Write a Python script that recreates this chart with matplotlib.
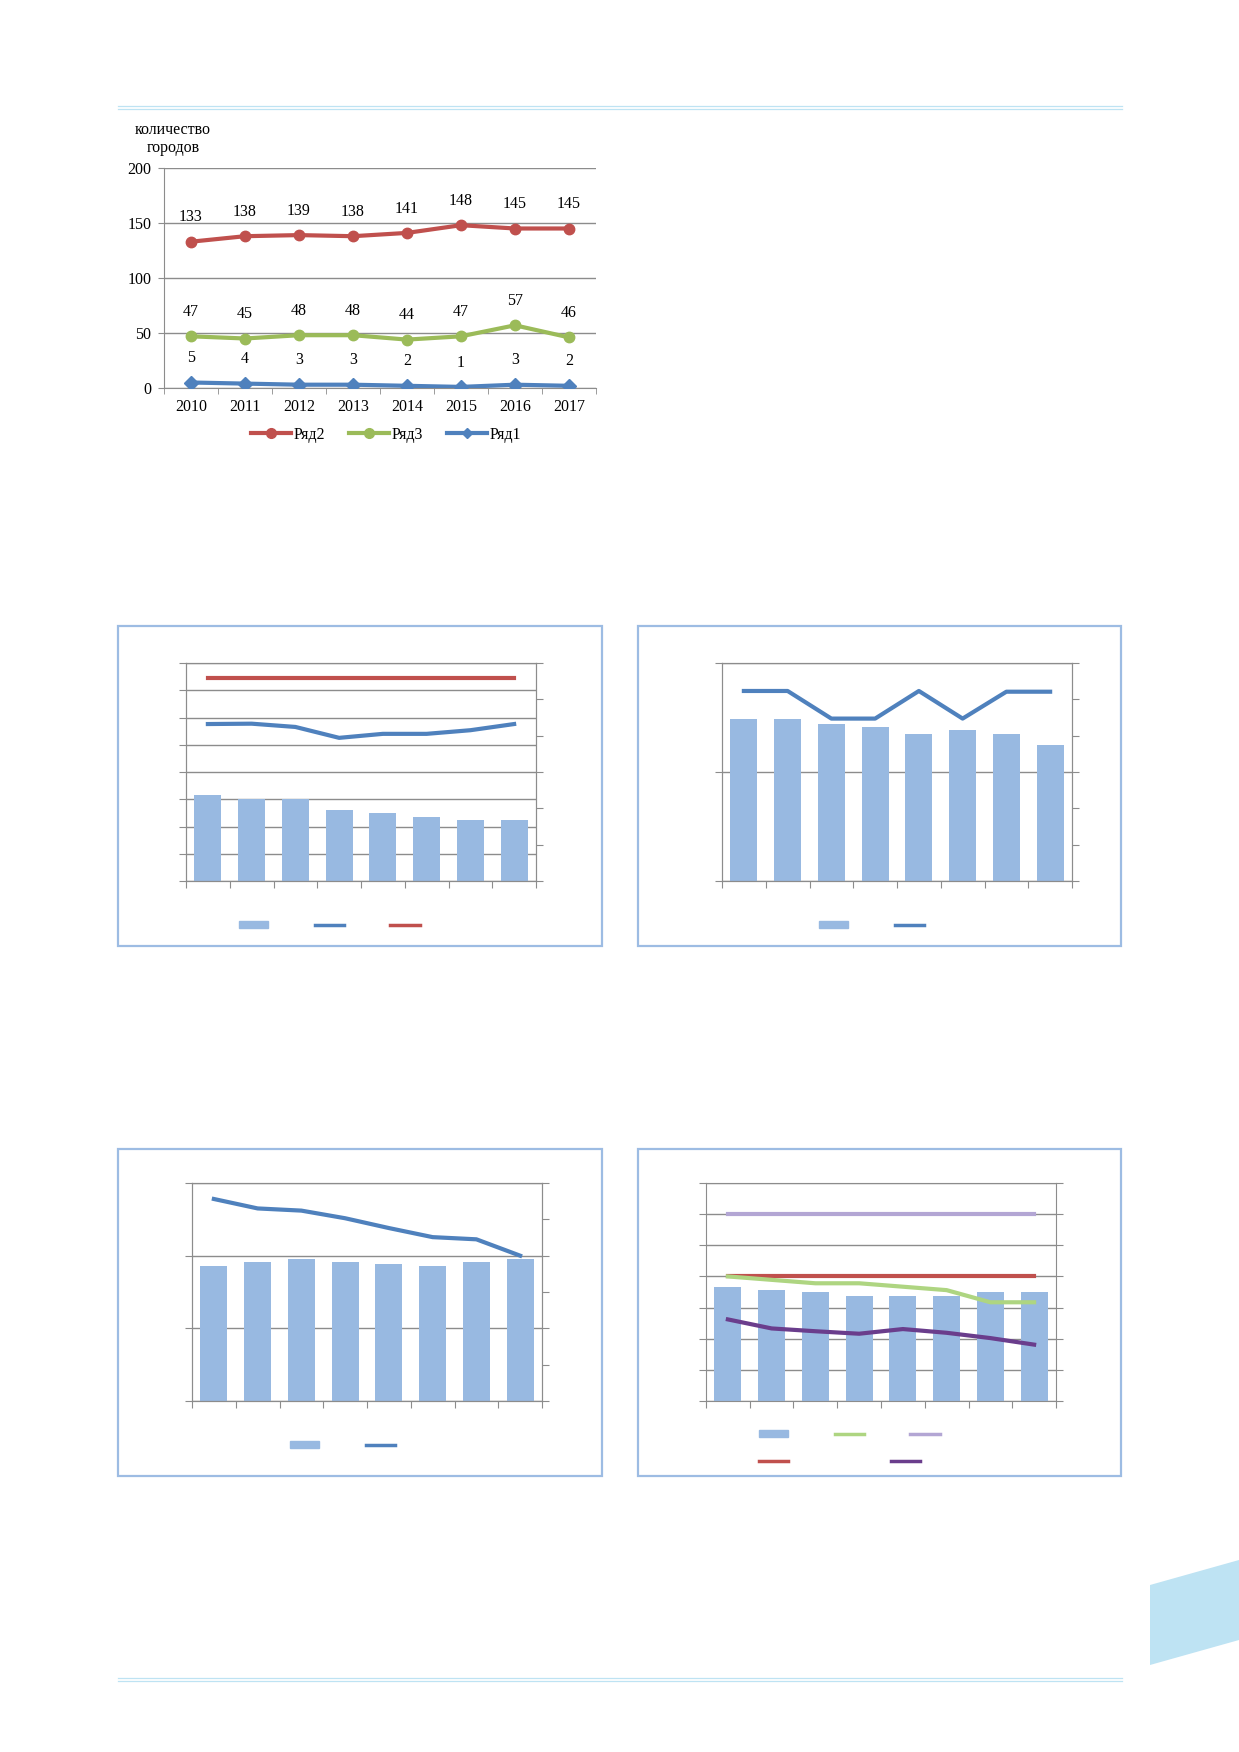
import numpy as np
import matplotlib.pyplot as plt
from matplotlib.lines import Line2D
from matplotlib.patches import Rectangle, Polygon, Patch

W, H = 1239, 1752

# top chart data
years = ['2010', '2011', '2012', '2013', '2014', '2015', '2016', '2017']
ryad2 = [133, 138, 139, 138, 141, 148, 145, 145]
ryad3 = [47, 45, 48, 48, 44, 47, 57, 46]
ryad1 = [5, 4, 3, 3, 2, 1, 3, 2]

# box charts (no labels in the source)
bars1 = [3.14, 3.01, 3.01, 2.62, 2.50, 2.35, 2.23, 2.23]
line1 = [4.32, 4.33, 4.24, 3.94, 4.05, 4.05, 4.15, 4.32]
ref1 = [5.58, 5.58, 5.58, 5.58, 5.58, 5.58, 5.58, 5.58]

bars2 = [1.489, 1.489, 1.443, 1.413, 1.352, 1.388, 1.352, 1.251]
line2 = [5.23, 5.23, 4.47, 4.47, 5.23, 4.47, 5.21, 5.21]

bars3 = [1.863, 1.909, 1.951, 1.909, 1.886, 1.863, 1.909, 1.951]
line3 = [5.56, 5.30, 5.24, 5.03, 4.76, 4.51, 4.45, 4.00]

bars4 = [3.66, 3.56, 3.49, 3.37, 3.37, 3.37, 3.49, 3.49]
lav4 = [6.0, 6.0, 6.0, 6.0, 6.0, 6.0, 6.0, 6.0]
red4 = [4.0, 4.0, 4.0, 4.0, 4.0, 4.0, 4.0, 4.0]
green4 = [4.0, 3.89, 3.78, 3.78, 3.67, 3.56, 3.17, 3.17]
purple4 = [2.62, 2.33, 2.24, 2.16, 2.31, 2.19, 2.02, 1.81]

RED = '#C0504D'
GREEN = '#9BBB59'
BLUE = '#4F81BD'
BARC = '#98B9E1'
LAV = '#B3A6D4'
PURP = '#6A3D8C'
LGREEN = '#AED581'
GRID = '#8C8C8C'
PAGE = '#BEE3F3'
FRAME = '#9DBCE3'
FS = 11.5

plt.rcParams['font.family'] = ['Liberation Serif', 'DejaVu Serif']

fig = plt.figure(figsize=(W / 100, H / 100), dpi=100)


def rect(l, t, r, b):
    return [l / W, 1 - b / H, (r - l) / W, (b - t) / H]


def fx(x):
    return x / W


def fy(y):
    return 1 - y / H


# page decoration
for yy in (105.5, 108.5):
    fig.add_artist(Line2D([fx(118), fx(1122)], [fy(yy), fy(yy)], color=PAGE, lw=0.9))
for yy in (1677.5, 1680.5):
    fig.add_artist(Line2D([fx(118), fx(1122)], [fy(yy), fy(yy)], color=PAGE, lw=0.9))
fig.add_artist(Polygon([[fx(1150), fy(1585)], [fx(1239), fy(1560)], [fx(1239), fy(1640)], [fx(1150), fy(1665)]],
                       closed=True, facecolor=PAGE, edgecolor='none'))

# ---------------- top line chart ----------------
ax = fig.add_axes(rect(164, 168, 596, 388))
x = np.arange(len(years))
ax.plot(x, ryad2, color=RED, lw=3, marker='o', ms=7.5, zorder=3)
ax.plot(x, ryad3, color=GREEN, lw=3, marker='o', ms=7.5, zorder=3)
ax.plot(x, ryad1, color=BLUE, lw=3, marker='D', ms=7.5, zorder=3)
for series in (ryad2, ryad3, ryad1):
    for i, v in enumerate(series):
        ax.annotate(str(v), (i, v), xytext=(0, 17.5), textcoords='offset points',
                    ha='center', va='center', fontsize=FS)
ax.set_xlim(-0.5, len(years) - 0.5)
ax.set_ylim(0, 200)
ax.set_yticks([0, 50, 100, 150, 200])
ax.set_xticks(x)
ax.set_xticklabels(years)
ax.set_xticks(np.arange(-0.5, len(years)), minor=True)
ax.tick_params(axis='x', which='major', length=0, pad=8, labelsize=FS)
ax.tick_params(axis='x', which='minor', length=4, color=GRID, direction='out')
ax.tick_params(axis='y', length=4, color=GRID, direction='out', pad=5, labelsize=FS)
ax.yaxis.grid(True, color=GRID, lw=1)
ax.set_axisbelow(True)
for s in ('top', 'right'):
    ax.spines[s].set_visible(False)
for s in ('left', 'bottom'):
    ax.spines[s].set_color(GRID)
fig.text(fx(173), fy(139), 'количество\nгородов', ha='center', va='center',
         fontsize=FS, linespacing=1.15)
h_top = [Line2D([], [], color=RED, lw=3, marker='o', ms=7),
         Line2D([], [], color=GREEN, lw=3, marker='o', ms=7),
         Line2D([], [], color=BLUE, lw=3, marker='D', ms=5)]
fig.legend(h_top, ['Ряд2', 'Ряд3', 'Ряд1'], loc='center', bbox_to_anchor=(fx(386), fy(435)),
           ncol=3, frameon=False, fontsize=FS, handlelength=2.5, handletextpad=0.15,
           columnspacing=1.5, borderpad=0, borderaxespad=0)


# ---------------- boxed combo charts ----------------
def box(l, t, r, b):
    fig.add_artist(Rectangle((fx(l), fy(b)), (r - l) / W, (b - t) / H, fill=False,
                             edgecolor=FRAME, lw=1.6))


def style(a, n_left):
    a.set_xlim(-0.5, 7.5)
    a.set_ylim(0, n_left)
    a.set_yticks(np.arange(n_left + 1))
    a.set_xticks(np.arange(-0.5, 8.5))
    a.tick_params(axis='both', length=5, color=GRID, direction='out', labelleft=False, labelbottom=False)
    a.yaxis.grid(True, color=GRID, lw=1)
    a.set_axisbelow(True)
    for s in a.spines.values():
        s.set_color(GRID)


def small_legend(handles, x0, y0, spacing):
    fig.legend(handles, [''] * len(handles), loc='center left', bbox_to_anchor=(fx(x0), fy(y0)),
               ncol=len(handles), frameon=False, fontsize=10, handlelength=2.1, handleheight=0.45,
               handletextpad=0, columnspacing=spacing, borderpad=0, borderaxespad=0)


def twin(a):
    t = a.twinx()
    t.set_ylim(0, 6)
    t.set_yticks(np.arange(7))
    t.tick_params(axis='y', length=5, color=GRID, direction='out', labelright=False)
    for s in t.spines.values():
        s.set_color(GRID)
    return t


# box 1
box(118, 626, 602, 946)
a1 = fig.add_axes(rect(186, 663, 536, 881))
a1.bar(x, bars1, width=0.62, color=BARC)
style(a1, 8)
t1 = twin(a1)
t1.plot(x, line1, color=BLUE, lw=3)
t1.plot(x, ref1, color=RED, lw=3)
small_legend([Patch(color=BARC), Line2D([], [], color=BLUE, lw=2.5), Line2D([], [], color=RED, lw=2.5)],
             239, 926, 3.35)

# box 2
box(638, 626, 1121, 946)
a2 = fig.add_axes(rect(722, 663, 1072, 881))
a2.bar(x, bars2, width=0.62, color=BARC)
style(a2, 2)
t2 = twin(a2)
t2.plot(x, line2, color=BLUE, lw=3)
small_legend([Patch(color=BARC), Line2D([], [], color=BLUE, lw=2.5)], 819, 926, 3.35)

# box 3
box(118, 1149, 602, 1476)
a3 = fig.add_axes(rect(192, 1183, 542, 1401))
a3.bar(x, bars3, width=0.62, color=BARC)
style(a3, 3)
t3 = twin(a3)
t3.plot(x, line3, color=BLUE, lw=3)
small_legend([Patch(color=BARC), Line2D([], [], color=BLUE, lw=2.5)], 290, 1446, 3.35)

# box 4
box(638, 1149, 1121, 1476)
a4 = fig.add_axes(rect(706, 1183, 1056, 1401))
a4.bar(x, bars4, width=0.62, color=BARC)
style(a4, 7)
a4.yaxis.set_ticks_position('both')
a4.plot(x, lav4, color=LAV, lw=3)
a4.plot(x, red4, color=RED, lw=3)
a4.plot(x, green4, color=LGREEN, lw=3)
a4.plot(x, purple4, color=PURP, lw=3)
small_legend([Patch(color=BARC), Line2D([], [], color=LGREEN, lw=2.5), Line2D([], [], color=LAV, lw=2.5)],
             759, 1435, 3.35)
small_legend([Line2D([], [], color=RED, lw=2.5), Line2D([], [], color=PURP, lw=2.5)], 759, 1462, 7.4)

fig.savefig('out.png', dpi=100)
